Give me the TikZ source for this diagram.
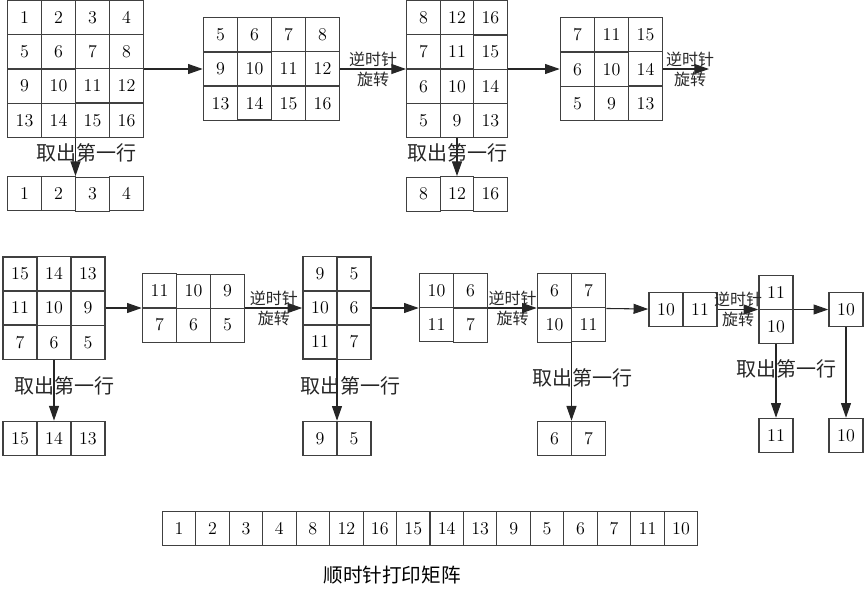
\documentclass[tikz,border=0pt]{standalone}
\usepackage{fontspec}
\newfontfamily\cjk{Noto Sans CJK SC}
\usetikzlibrary{matrix,arrows.meta}

\begin{document}
\begin{tikzpicture}[x=0.75pt, y=-0.75pt, >={Triangle[length=11pt,width=7.5pt]},
    numgrid/.style={matrix of nodes, inner sep=0pt, column sep=-0.8pt, row sep=-0.8pt,
        nodes={draw=black!75, line width=0.8pt, minimum width=25.5pt, minimum height=25.5pt,
            inner sep=0pt, font=\fontsize{13.5}{16}\selectfont}},
    link/.style={->, line width=0.8pt, black!85},
    rotlabel/.style={midway, align=center, inner sep=0pt, font=\cjk\fontsize{12}{15}\selectfont},
    takelabel/.style={midway, yshift=3pt, font=\cjk\fontsize{15}{18}\selectfont}]
    \useasboundingbox (0,0) rectangle (867,615);

    % 1. First row: 4x4 matrix and the steps
    \matrix (m1) [numgrid] at (75.5,69) {1 & 2 & 3 & 4\\ 5 & 6 & 7 & 8\\ 9 & 10 & 11 & 12\\ 13 & 14 & 15 & 16\\};
    \matrix (m2) [numgrid] at (271.5,69) {5 & 6 & 7 & 8\\ 9 & 10 & 11 & 12\\ 13 & 14 & 15 & 16\\};
    \matrix (m3) [numgrid, nodes={minimum width=25.1pt}] at (457,69) {8 & 12 & 16\\ 7 & 11 & 15\\ 6 & 10 & 14\\ 5 & 9 & 13\\};
    \matrix (m4) [numgrid] at (611.5,69) {7 & 11 & 15\\ 6 & 10 & 14\\ 5 & 9 & 13\\};
    \coordinate (m4end) at (709,69);

    \matrix (r1) [numgrid] at (75.5,194) {1 & 2 & 3 & 4\\};
    \matrix (r3) [numgrid, nodes={minimum width=25.1pt}] at (457,194) {8 & 12 & 16\\};

    \draw[link] (m1) -- (m2);
    \draw[link] (m2) -- (m3) node[rotlabel] {逆时针\\旋转};
    \draw[link] (m3) -- (m4);
    \draw[link] (m4) -- (m4end) node[rotlabel, xshift=3pt] {逆时针\\旋转};
    \draw[link] (m1) -- (r1) node[takelabel, xshift=8pt] {取出第一行};
    \draw[link] (m3) -- (r3) node[takelabel] {取出第一行};

    % 2. Second row: 3x3 matrix down to one cell
    \matrix (m5) [numgrid] at (54,308) {15 & 14 & 13\\ 11 & 10 & 9\\ 7 & 6 & 5\\};
    \matrix (m6) [numgrid] at (193.5,308) {11 & 10 & 9\\ 7 & 6 & 5\\};
    \matrix (m7) [numgrid] at (337,308) {9 & 5\\ 10 & 6\\ 11 & 7\\};
    \matrix (m8) [numgrid] at (453.5,308) {10 & 6\\ 11 & 7\\};
    \matrix (m9) [numgrid] at (571.5,308) {6 & 7\\ 10 & 11\\};
    \matrix (m10) [numgrid] at (683,309.5) {10 & 11\\};
    \matrix (m11) [numgrid] at (776,309.5) {11\\ 10\\};
    \matrix (m12) [numgrid] at (846,309.5) {10\\};

    \matrix (r5) [numgrid] at (54,438.5) {15 & 14 & 13\\};
    \matrix (r7) [numgrid] at (337,438.5) {9 & 5\\};
    \matrix (r9) [numgrid] at (571.5,438.5) {6 & 7\\};
    \matrix (r11) [numgrid] at (776,435.5) {11\\};
    \matrix (r12) [numgrid] at (846,435.5) {10\\};

    \draw[link] (m5) -- (m6);
    \draw[link] (m6) -- (m7) node[rotlabel] {逆时针\\旋转};
    \draw[link] (m7) -- (m8);
    \draw[link] (m8) -- (m9) node[rotlabel] {逆时针\\旋转};
    \draw[link] (m9) -- (m10);
    \draw[link] (m10) -- (m11) node[rotlabel] {逆时针\\旋转};
    \draw[link] (m11) -- (m12);
    \draw[link] (m5) -- (r5) node[takelabel, xshift=8pt] {取出第一行};
    \draw[link] (m7) -- (r7) node[takelabel, xshift=10pt] {取出第一行};
    \draw[link] (m9) -- (r9) node[takelabel, xshift=8pt] {取出第一行};
    \draw[link] (m11) -- (r11) node[takelabel, xshift=8pt, yshift=6pt] {取出第一行};
    \draw[link] (m12) -- (r12);

    % 3. Result
    \matrix (out) [numgrid, nodes={minimum width=25.1pt}] at (430,528.5)
        {1 & 2 & 3 & 4 & 8 & 12 & 16 & 15 & 14 & 13 & 9 & 5 & 6 & 7 & 11 & 10\\};
    \node (title) [font=\cjk\fontsize{14.7}{17}\selectfont] at (392,575) {顺时针打印矩阵};
\end{tikzpicture}
\end{document}
